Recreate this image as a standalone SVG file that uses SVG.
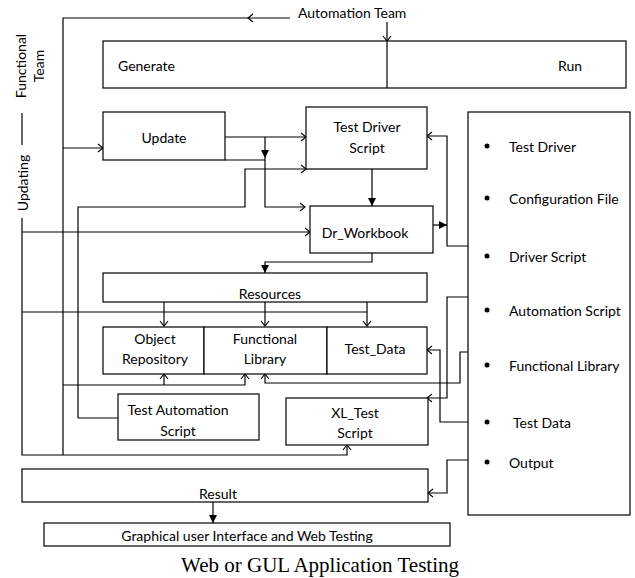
<svg xmlns="http://www.w3.org/2000/svg" width="635" height="578" viewBox="0 0 635 578">
<defs>
<style>
.box{fill:#fff;stroke:#000;stroke-width:1.2}
.ln{fill:none;stroke:#000;stroke-width:1.2}
.t{font-family:Lato,"Liberation Sans",sans-serif;font-size:14px;fill:#000;text-anchor:middle;dominant-baseline:central}
.tl{font-family:Lato,"Liberation Sans",sans-serif;font-size:14px;fill:#000;dominant-baseline:central}
.cap{font-family:"Liberation Serif","Times New Roman",serif;font-size:21px;fill:#000;text-anchor:middle}
.dot{fill:#000}
</style>
<marker id="open" markerUnits="userSpaceOnUse" markerWidth="10" markerHeight="10" refX="6" refY="4" orient="auto" overflow="visible">
<path d="M1,0 L6,4 L1,8" fill="none" stroke="#000" stroke-width="1.1"/>
</marker>
<marker id="fill" markerUnits="userSpaceOnUse" markerWidth="10" markerHeight="10" refX="8" refY="4" orient="auto" overflow="visible">
<path d="M0,0 L8,4 L0,8 z" fill="#000"/>
</marker>
</defs>

<g id="connectors">
<path class="ln" d="M290,18 H248"/>
<path class="ln" d="M253,14 L248,18 L253,22"/>
<path class="ln" d="M248,18 H63 V455"/>
<path class="ln" d="M387,22 V41" marker-end="url(#open)"/>
<path class="ln" d="M63,148 H103" marker-end="url(#open)"/>
<path class="ln" d="M22,113 V145"/>
<path class="ln" d="M22,218 V455 H347 V445" marker-end="url(#open)"/>
<path class="ln" d="M22,232 H310" marker-end="url(#open)"/>
<path class="ln" d="M22,312 H367"/>
<path class="ln" d="M225,137 H306" marker-end="url(#open)"/>
<path class="ln" d="M225,160 H265"/>
<path class="ln" d="M265,137 V158" marker-end="url(#fill)"/>
<path class="ln" d="M265,158 V207 H305" marker-end="url(#open)"/>
<path class="ln" d="M78,418 V207 H245 V169 H306" marker-end="url(#open)"/>
<path class="ln" d="M78,418 H118"/>
<path class="ln" d="M372,169 V206" marker-end="url(#fill)"/>
<path class="ln" d="M433,225 H447" marker-end="url(#fill)"/>
<path class="ln" d="M484,246 H447 V136 H427" marker-end="url(#open)"/>
<path class="ln" d="M372,253 V262 H265 V273" marker-end="url(#fill)"/>
<path class="ln" d="M164,302 V326" marker-end="url(#open)"/>
<path class="ln" d="M265,302 V326" marker-end="url(#open)"/>
<path class="ln" d="M367,302 V326" marker-end="url(#open)"/>
<path class="ln" d="M63,385 H245 V374" marker-end="url(#open)"/>
<path class="ln" d="M164,385 V374" marker-end="url(#open)"/>
<path class="ln" d="M484,297 H447 V398 H427" marker-end="url(#open)"/>
<path class="ln" d="M480,352 H460 V383 H265 V374" marker-end="url(#open)"/>
<path class="ln" d="M484,422 H440 V350 H427" marker-end="url(#open)"/>
<path class="ln" d="M484,460 H447 V493 H428" marker-end="url(#open)"/>
<path class="ln" d="M213,502 V523" marker-end="url(#fill)"/>
</g>

<g id="label-automation-team"><text class="tl" x="298" y="12">Automation Team</text></g>
<g id="label-functional-team">
<text class="t" transform="translate(20,66) rotate(-90)">Functional</text>
<text class="t" transform="translate(38,66) rotate(-90)">Team</text>
</g>
<g id="label-updating"><text class="t" transform="translate(22,183) rotate(-90)">Updating</text></g>

<g id="generate-run">
<rect class="box" x="103" y="41" width="523" height="47"/>
<line class="ln" x1="387" y1="41" x2="387" y2="88"/>
<text class="tl" x="118" y="65">Generate</text>
<text class="tl" x="558" y="65">Run</text>
</g>

<g id="update">
<rect class="box" x="103" y="112" width="122" height="48"/>
<text class="t" x="164" y="137">Update</text>
</g>

<g id="test-driver-script">
<rect class="box" x="306" y="107" width="121" height="62"/>
<text class="t" x="367" y="126">Test Driver</text>
<text class="t" x="367" y="147">Script</text>
</g>

<g id="dr-workbook">
<rect class="box" x="310" y="206" width="123" height="47"/>
<text class="t" x="365" y="232">Dr_Workbook</text>
</g>

<g id="resources">
<rect class="box" x="103" y="273" width="324" height="29"/>
<text class="t" x="270" y="293">Resources</text>
</g>

<g id="object-repository">
<rect class="box" x="103" y="327" width="101" height="47"/>
<text class="t" x="155" y="338">Object</text>
<text class="t" x="155" y="358">Repository</text>
</g>
<g id="functional-library">
<rect class="box" x="204" y="327" width="123" height="47"/>
<text class="t" x="265" y="338">Functional</text>
<text class="t" x="265" y="358">Library</text>
</g>
<g id="test-data">
<rect class="box" x="327" y="327" width="100" height="47"/>
<text class="t" x="375" y="348">Test_Data</text>
</g>

<g id="test-automation-script">
<rect class="box" x="118" y="394" width="141" height="46"/>
<text class="t" x="178" y="409">Test Automation</text>
<text class="t" x="178" y="430">Script</text>
</g>

<g id="xl-test-script">
<rect class="box" x="286" y="398" width="142" height="47"/>
<text class="t" x="355" y="412">XL_Test</text>
<text class="t" x="355" y="432">Script</text>
</g>

<g id="panel">
<rect class="box" x="468" y="112" width="162" height="403"/>
</g>
<g id="panel-items">
<circle class="dot" cx="487" cy="146" r="2.5"/><text class="tl" x="509" y="146">Test Driver</text>
<circle class="dot" cx="487" cy="198" r="2.5"/><text class="tl" x="509" y="198">Configuration File</text>
<circle class="dot" cx="487" cy="256" r="2.5"/><text class="tl" x="509" y="256">Driver Script</text>
<circle class="dot" cx="487" cy="310" r="2.5"/><text class="tl" x="509" y="310">Automation Script</text>
<circle class="dot" cx="487" cy="365" r="2.5"/><text class="tl" x="509" y="365">Functional Library</text>
<circle class="dot" cx="487" cy="422" r="2.5"/><text class="tl" x="513" y="422">Test Data</text>
<circle class="dot" cx="487" cy="462" r="2.5"/><text class="tl" x="509" y="462">Output</text>
</g>

<g id="result">
<rect class="box" x="22" y="469" width="406" height="33"/>
<text class="t" x="218" y="493">Result</text>
</g>

<g id="gui-web-testing">
<rect class="box" x="44" y="523" width="406" height="23"/>
<text class="t" x="247" y="535">Graphical user Interface and Web Testing</text>
</g>

<g id="caption"><text class="cap" x="320" y="572">Web or GUL Application Testing</text></g>
</svg>
